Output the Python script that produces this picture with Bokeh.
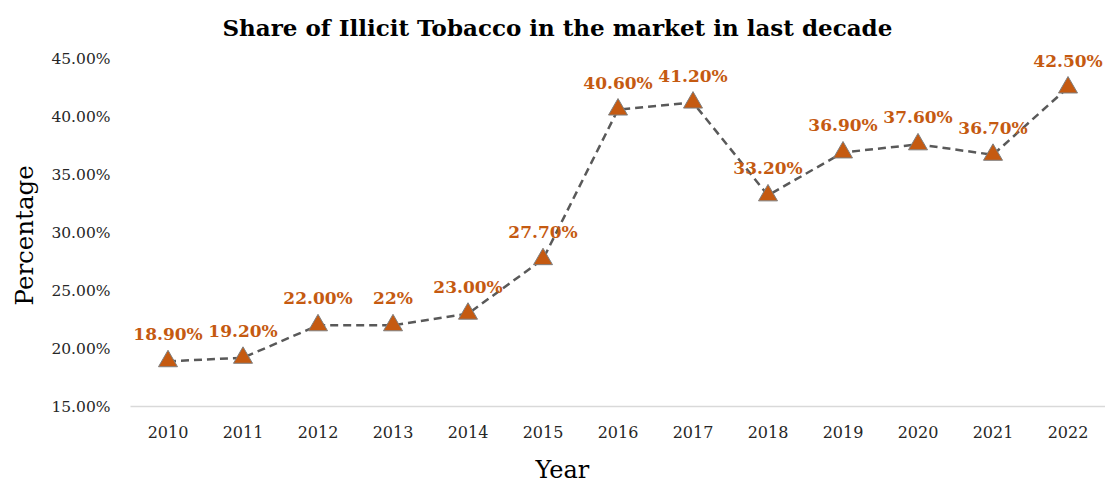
from bokeh.plotting import figure
from bokeh.models import ColumnDataSource, FixedTicker, Range1d, FactorRange, Title
from bokeh.embed import file_html
from bokeh.resources import INLINE
from bokeh.core.properties import value

years = ["2010", "2011", "2012", "2013", "2014", "2015", "2016",
         "2017", "2018", "2019", "2020", "2021", "2022"]
share = [18.9, 19.2, 22.0, 22.0, 23.0, 27.7, 40.6, 41.2, 33.2, 36.9, 37.6, 36.7, 42.5]
labels = ["18.90%", "19.20%", "22.00%", "22%", "23.00%", "27.70%", "40.60%",
          "41.20%", "33.20%", "36.90%", "37.60%", "36.70%", "42.50%"]
y_ticks = [15, 20, 25, 30, 35, 40, 45]
y_tick_labels = ["15.00%", "20.00%", "25.00%", "30.00%", "35.00%", "40.00%", "45.00%"]
title_text = "Share of Illicit Tobacco in the market in last decade"
x_title = "Year"
y_title = "Percentage"

FONT = "DejaVu Serif"
ORANGE = "#C55A11"

src = ColumnDataSource(dict(x=years, y=share, lab=labels))

p = figure(width=1105, height=483, x_range=FactorRange(*years), y_range=Range1d(15, 46.38),
           output_backend="svg", toolbar_location=None, title=None,
           min_border_left=130, min_border_right=0, min_border_top=42, min_border_bottom=77)
p.outline_line_color = None
p.grid.visible = False

p.line("x", "y", source=src, line_color="#595959", line_width=2.5, line_dash="8 5")
p.scatter("x", "y", source=src, marker="triangle", size=19, fill_color=ORANGE,
          line_color="#7f7f7f", line_width=1)
p.text("x", "y", text="lab", source=src, text_font=value(FONT), text_font_size="17px",
       text_font_style="bold", text_color=ORANGE, text_align="center",
       text_baseline="alphabetic", y_offset=-27)

ya = p.yaxis[0]
ya.ticker = FixedTicker(ticks=y_ticks)
ya.major_label_overrides = {t: l for t, l in zip(y_ticks, y_tick_labels)}
ya.axis_line_color = None
ya.major_tick_line_color = None
ya.minor_tick_line_color = None
ya.major_label_text_font = FONT
ya.major_label_text_font_size = "15.5px"
ya.major_label_text_color = "#262626"
ya.major_label_standoff = 14

xa = p.xaxis[0]
xa.axis_line_color = "#d9d9d9"
xa.axis_line_width = 1.5
xa.major_tick_line_color = None
xa.minor_tick_line_color = None
xa.major_label_text_font = FONT
xa.major_label_text_font_size = "16px"
xa.major_label_text_color = "#262626"
xa.major_label_standoff = 13

p.add_layout(Title(text=title_text, text_font=FONT, text_font_size="23px",
                   text_font_style="bold", text_color="#000000",
                   align="left", offset=92, standoff=4, vertical_align="bottom"), "above")
# small blank spacer between the tick labels and the x-axis title
p.add_layout(Title(text=" ", text_font=FONT, text_font_size="1px",
                   standoff=10), "below")
p.add_layout(Title(text=x_title, text_font=FONT, text_font_size="24px",
                   text_font_style="normal", text_color="#000000",
                   align="left", offset=405, standoff=0, vertical_align="bottom"), "below")
p.add_layout(Title(text=y_title, text_font=FONT, text_font_size="24.5px",
                   text_font_style="normal", text_color="#000000",
                   align="left", offset=101, standoff=16, vertical_align="top"), "left")

open("out.html", "w").write(file_html(p, INLINE))
